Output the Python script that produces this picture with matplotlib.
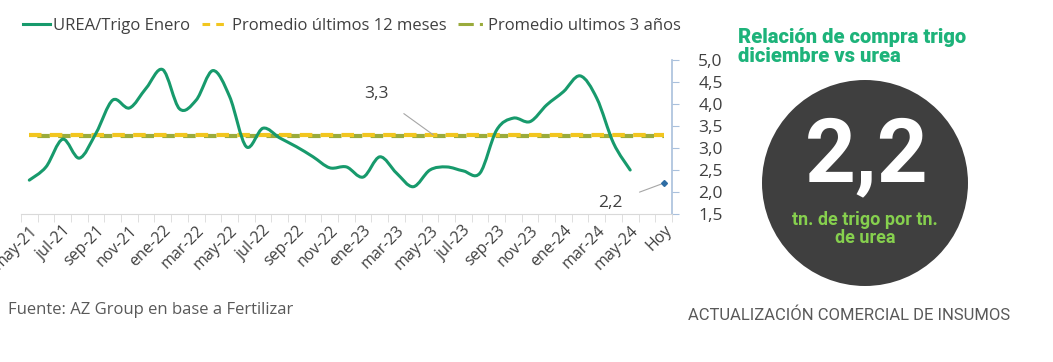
import numpy as np
import matplotlib
matplotlib.use("Agg")
import matplotlib.pyplot as plt
from matplotlib.path import Path
from matplotlib.patches import PathPatch, Circle
from matplotlib.lines import Line2D

# ---------------- data ----------------
months = ["may-21", "jun-21", "jul-21", "ago-21", "sep-21", "oct-21", "nov-21", "dic-21",
          "ene-22", "feb-22", "mar-22", "abr-22", "may-22", "jun-22", "jul-22", "ago-22",
          "sep-22", "oct-22", "nov-22", "dic-22", "ene-23", "feb-23", "mar-23", "abr-23",
          "may-23", "jun-23", "jul-23", "ago-23", "sep-23", "oct-23", "nov-23", "dic-23",
          "ene-24", "feb-24", "mar-24", "abr-24", "may-24", "jun-24", "Hoy"]
urea_trigo = [2.27, 2.57, 3.20, 2.77, 3.34, 4.09, 3.91, 4.36, 4.78, 3.89, 4.09, 4.76,
              4.17, 3.03, 3.45, 3.23, 3.03, 2.80, 2.55, 2.57, 2.34, 2.80, 2.43, 2.12,
              2.50, 2.57, 2.48, 2.43, 3.41, 3.68, 3.60, 3.98, 4.28, 4.64, 4.13, 3.11, 2.50]
hoy_value = 2.2
prom_12m = 3.3
prom_3a = 3.28
y_ticks = [1.5, 2.0, 2.5, 3.0, 3.5, 4.0, 4.5, 5.0]
big_value = "2,2"

# ---------------- styling ----------------
TEAL = "#179a6c"
YELLOW = "#f2c61f"
OLIVE = "#9aab3c"
GRAY_TXT = "#404040"
plt.rcParams['font.family'] = ['Open Sans', 'DejaVu Sans']

fig = plt.figure(figsize=(10.53, 3.62), dpi=100)
ax = fig.add_axes([0.0199, 0.4088, 0.6182, 0.4254])

n = len(months)
x = np.arange(len(urea_trigo))
y = np.array(urea_trigo)

# smooth (Excel-like) curve drawn as cubic Bezier through data points
verts = [(x[0], y[0])]
codes = [Path.MOVETO]
t = 1 / 6
for i in range(len(x) - 1):
    p0 = np.array([x[max(i - 1, 0)], y[max(i - 1, 0)]])
    p1 = np.array([x[i], y[i]])
    p2 = np.array([x[i + 1], y[i + 1]])
    p3 = np.array([x[min(i + 2, len(x) - 1)], y[min(i + 2, len(x) - 1)]])
    c1 = p1 + (p2 - p0) * t
    c2 = p2 - (p3 - p1) * t
    verts += [tuple(c1), tuple(c2), tuple(p2)]
    codes += [Path.CURVE4] * 3
ax.add_patch(PathPatch(Path(verts, codes), fill=False, edgecolor=TEAL, lw=2.2,
                       capstyle='round', joinstyle='round', zorder=4))

xa = np.arange(n)
ax.plot(xa, [prom_3a] * n, color=OLIVE, lw=3, ls=(3, (3, 2)), zorder=2)
ax.plot(xa, [prom_12m] * n, color=YELLOW, lw=3, ls=(0, (3, 2)), zorder=3)
ax.plot([n - 1], [hoy_value], marker='D', ms=3, color="#2e6da4", zorder=5, ls='none')

ax.set_xlim(-0.5, n - 0.5)
ax.set_ylim(1.5, 5.0)

# y axis on the right
ax.yaxis.tick_right()
ax.set_yticks(y_ticks)
ax.set_yticklabels([f"{v:.1f}".replace(".", ",") for v in y_ticks],
                   fontsize=12.5, color=GRAY_TXT)
ax.tick_params(axis='y', direction='out', length=5, color="#a9c0dc", pad=14)
for s in ['top', 'left']:
    ax.spines[s].set_visible(False)
ax.spines['right'].set_color("#a9c0dc")
ax.spines['right'].set_linewidth(1.2)
ax.spines['bottom'].set_color("#d9d9d9")

# x axis
ax.set_xticks(np.arange(0, n, 2))
ax.set_xticklabels([months[i] for i in range(0, n, 2)], rotation=45, ha='right',
                   rotation_mode='anchor', fontsize=11.5, color=GRAY_TXT)
ax.set_xticks(np.arange(-0.5, n, 1), minor=True)
ax.tick_params(axis='x', which='major', length=0, pad=6)
ax.tick_params(axis='x', which='minor', length=6, color="#d9d9d9")

# annotations
ax.annotate("3,3", xy=(24.2, prom_12m), xytext=(20.8, 4.23), fontsize=12.5, color=GRAY_TXT,
            ha='center', va='center',
            arrowprops=dict(arrowstyle='-', color="#a6a6a6", lw=0.8, shrinkA=11, shrinkB=0))
ax.annotate("2,2", xy=(n - 1, hoy_value), xytext=(34.8, 1.75), fontsize=12.5, color=GRAY_TXT,
            ha='center', va='center',
            arrowprops=dict(arrowstyle='-', color="#a6a6a6", lw=0.8, shrinkA=11, shrinkB=2))

# legend
handles = [Line2D([], [], color=TEAL, lw=2.2),
           Line2D([], [], color=YELLOW, lw=2.2, ls=(0, (2.5, 2))),
           Line2D([], [], color=OLIVE, lw=2.2, ls=(0, (5, 2, 1, 2)))]
labels = ["UREA/Trigo Enero", "Promedio últimos 12 meses", "Promedio ultimos 3 años"]
fig.legend(handles, labels, loc='center left', bbox_to_anchor=(0.008, 0.928), ncol=3,
           frameon=False, fontsize=12, handlelength=1.6, handletextpad=0.2,
           columnspacing=0.7, labelcolor=GRAY_TXT)

fig.text(0.008, 1 - 310 / 362, "Fuente: AZ Group en base a Fertilizar", fontsize=12,
         color="#595959", va='center')

# right panel
fig.text(738 / 1053, 1 - 47 / 362, "Relación de compra trigo\ndiciembre vs urea", fontsize=14.5,
         fontweight='black', color="#1db37a", family=['Roboto', 'DejaVu Sans'],
         va='center', ha='left', linespacing=0.98)
circ = Circle((865, 362 - 183), 103, transform=None, facecolor="#3f3f3f", edgecolor='none')
fig.patches.append(circ)
fig.text(867 / 1053, 1 - 157 / 362, big_value, fontsize=64, fontweight='bold',
         color='white', family=['Liberation Sans Narrow', 'Roboto', 'DejaVu Sans'],
         ha='center', va='center')
fig.text(865 / 1053, 1 - 229 / 362, "tn. de trigo por tn.\nde urea", fontsize=13,
         fontweight='bold', color="#86d04e", family=['Roboto', 'DejaVu Sans'],
         ha='center', va='center', linespacing=1.0)
fig.text(849.5 / 1053, 1 - 315 / 362, "ACTUALIZACIÓN COMERCIAL DE INSUMOS", fontsize=12,
         color="#595959", ha='center', va='center', family=['Roboto', 'DejaVu Sans'])

fig.savefig("out.png", dpi=100, facecolor='white')
